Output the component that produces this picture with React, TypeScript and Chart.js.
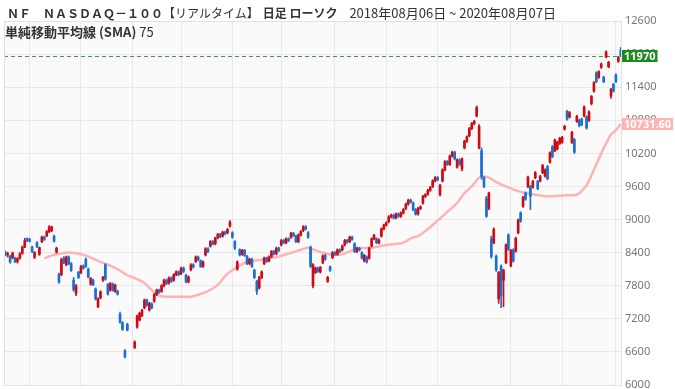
import React, { useEffect, useRef } from "react";
import { Chart, registerables } from "chart.js";

Chart.register(...registerables);

// Candles (each candle ~2 trading days)
const openPrices: (number | null)[] = [
  8400, 8360, 8330, 8310, 8300, 8240, 8300, 8390, 8500, 8650, 8640, 8500, 8320, 8580, 8370, 8600, 8680, 8700, 8780, 8800,
  8700, 8410, 8010, 8000, 8300, 8180, 8320, 8200, 7900, 7660, 8040, 8040, 8150, 8280, 8100, 7830, 7900, 7740, 7420, 7580,
  7900, 8180, 7820, 7720, 7830, 7700, 7700, 7280, 7130, 6620, 7100, null, null, 6680, 7050, 7180, 7260, 7400, 7540, 7360,
  7470, 7520, 7640, 7720, 7700, 7800, 7900, 7850, 7940, 7900, 8000, 8050, 8020, 8120, 7990, 7870, 8090, 8180, 8240, 8320,
  8250, 8150, 8360, 8470, 8520, 8600, 8560, 8670, 8730, 8700, 8770, 8760, 8880, 8760, 8600, 8100, 8450, 8370, 8440, 8330,
  8200, 8280, 8080, 7880, 7760, 7950, 8200, 8300, 8250, 8330, 8420, 8380, 8480, 8540, 8620, 8580, 8650, 8680, 8750, 8700,
  8600, 8720, 8800, 8870, 8760, 8500, 7800, 8040, 8120, 8050, 8220, 8350, 7880, 8140, 8310, 8400, 8370, 8450, 8450, 8540,
  8620, 8600, 8680, 8560, 8420, 8480, 8400, 8250, 8320, 8300, 8520, 8650, 8650, 8580, 8700, 8830, 8900, 8960, 9050, 9080,
  9030, 9100, 9060, 9120, 9200, 9280, 9350, 9300, 9180, 9100, 9200, 9300, 9420, 9460, 9530, 9600, 9700, 9760, 9450, 9700,
  9900, 10050, 10000, 10150, 10220, 9950, 10080, 9920, 10300, 10420, 10520, 10650, 10740, 10880, 10300, 10250, 9760, 9380, 9200, 8650,
  8580, 8330, 7560, 8150, 7900, 8220, 8720, 8160, 8450, 8430, 8760, 9120, 9240, 9480, 9600, 9600, 9590, 9760, 9690, 9700,
  9850, 9790, 9960, 10040, 10320, 10250, 10280, 10380, 10400, 10640, 10960, 10860, 10400, 10450, 10780, 10800, 10820, 10880, 10860, 10800,
  11100, 11330, 11660, 11580, 11760, 11580, 11950, 11770, 11240, 11450, 11620, 11870, 12080,
];
const highPrices: (number | null)[] = [
  8430, 8410, 8350, 8410, 8320, 8310, 8400, 8520, 8660, 8670, 8660, 8520, 8420, 8600, 8500, 8700, 8700, 8800, 8890, 8880,
  8720, 8500, 8030, 8300, 8330, 8340, 8340, 8220, 7950, 7820, 8060, 8170, 8180, 8300, 8120, 7950, 7920, 7760, 7580, 7710,
  7970, 8200, 7840, 7860, 7850, 7830, 7720, 7320, 7150, 6640, 7120, null, null, 6800, 7270, 7320, 7370, 7560, 7560, 7500,
  7490, 7660, 7740, 7740, 7820, 7920, 7920, 7960, 7960, 8020, 8070, 8070, 8140, 8140, 8010, 7980, 8200, 8200, 8340, 8340,
  8270, 8250, 8490, 8490, 8620, 8620, 8680, 8750, 8750, 8790, 8790, 8840, 8980, 8780, 8620, 8250, 8470, 8460, 8460, 8350,
  8300, 8300, 8100, 7900, 7970, 8070, 8320, 8320, 8340, 8440, 8440, 8500, 8500, 8640, 8640, 8670, 8670, 8770, 8770, 8720,
  8740, 8800, 8890, 8890, 8780, 8520, 8200, 8140, 8140, 8150, 8360, 8370, 7970, 8160, 8420, 8420, 8470, 8470, 8540, 8640,
  8640, 8700, 8700, 8580, 8500, 8500, 8420, 8370, 8340, 8500, 8670, 8730, 8670, 8650, 8850, 8920, 8960, 9070, 9100, 9100,
  9120, 9120, 9140, 9200, 9300, 9370, 9370, 9320, 9200, 9220, 9250, 9440, 9470, 9550, 9600, 9720, 9780, 9780, 9640, 9920,
  10070, 10070, 10170, 10240, 10240, 10100, 10100, 10120, 10440, 10520, 10670, 10760, 10800, 11060, 10720, 10300, 9780, 9420, 9500, 8700,
  8850, 8360, 8060, 8180, 8100, 8560, 8740, 8460, 8470, 8680, 9010, 9140, 9420, 9500, 9790, 9620, 9710, 9870, 9710, 9800,
  10000, 9920, 9980, 10230, 10340, 10460, 10420, 10490, 10510, 10710, 10980, 10960, 10600, 10470, 10890, 10820, 10840, 11060, 10880, 10970,
  11250, 11500, 11680, 11700, 11840, 11600, 12060, 11870, 11380, 11470, 11640, 11960, 12120,
];
const lowPrices: (number | null)[] = [
  8340, 8320, 8210, 8290, 8220, 8210, 8280, 8370, 8490, 8600, 8590, 8400, 8290, 8490, 8350, 8580, 8620, 8690, 8760, 8780,
  8590, 8390, 7840, 7980, 8200, 8160, 8180, 8060, 7700, 7620, 7930, 8020, 8100, 8130, 7940, 7810, 7800, 7540, 7400, 7560,
  7880, 7900, 7630, 7700, 7700, 7680, 7630, 7120, 6990, 6490, 6980, null, null, 6660, 7030, 7160, 7240, 7380, 7430, 7340,
  7380, 7500, 7620, 7660, 7680, 7780, 7820, 7830, 7860, 7880, 7980, 7980, 8000, 8040, 7850, 7850, 8070, 8120, 8220, 8250,
  8130, 8130, 8340, 8400, 8500, 8540, 8540, 8650, 8670, 8680, 8720, 8740, 8860, 8660, 8460, 8080, 8340, 8350, 8330, 8180,
  8180, 8130, 7930, 7640, 7740, 7930, 8180, 8220, 8230, 8310, 8360, 8360, 8420, 8520, 8560, 8560, 8600, 8660, 8690, 8580,
  8580, 8700, 8780, 8810, 8660, 8130, 7760, 8020, 8040, 8030, 8200, 8260, 7860, 8060, 8290, 8350, 8350, 8400, 8430, 8520,
  8570, 8580, 8620, 8400, 8400, 8430, 8280, 8230, 8210, 8280, 8500, 8630, 8560, 8560, 8680, 8810, 8880, 8940, 9030, 9010,
  9010, 9040, 9040, 9100, 9180, 9260, 9300, 9160, 9080, 9080, 9180, 9280, 9400, 9440, 9510, 9580, 9680, 9700, 9430, 9680,
  9880, 9980, 9980, 10130, 10080, 9930, 9980, 9880, 10280, 10400, 10500, 10630, 10720, 10860, 10280, 9730, 9580, 9040, 9180, 8300,
  8560, 8060, 7480, 7400, 7420, 8200, 8440, 8140, 8230, 8410, 8740, 8950, 9220, 9350, 9580, 9180, 9570, 9740, 9540, 9680,
  9830, 9770, 9720, 10020, 10120, 10230, 10260, 10360, 10380, 10620, 10800, 10840, 10380, 10200, 10760, 10680, 10700, 10860, 10640, 10780,
  11080, 11310, 11480, 11560, 11740, 11480, 11930, 11750, 11200, 11310, 11480, 11850, 11950,
];
const closePrices: (number | null)[] = [
  8360, 8380, 8230, 8390, 8240, 8290, 8380, 8500, 8620, 8620, 8610, 8420, 8400, 8510, 8490, 8680, 8640, 8780, 8860, 8870,
  8610, 8480, 7870, 8270, 8220, 8320, 8200, 8080, 7730, 7800, 7950, 8150, 8120, 8150, 7960, 7930, 7820, 7560, 7560, 7690,
  7950, 7920, 7650, 7840, 7720, 7810, 7650, 7140, 7010, 6510, 7000, null, null, 6780, 7250, 7300, 7350, 7540, 7450, 7480,
  7400, 7640, 7720, 7680, 7800, 7900, 7840, 7940, 7880, 8000, 8050, 8000, 8120, 8060, 7870, 7960, 8180, 8140, 8320, 8270,
  8150, 8230, 8470, 8420, 8600, 8560, 8660, 8730, 8690, 8770, 8740, 8820, 8950, 8680, 8480, 8230, 8360, 8440, 8350, 8200,
  8280, 8150, 7950, 7700, 7950, 8050, 8300, 8240, 8320, 8420, 8380, 8480, 8440, 8620, 8580, 8650, 8620, 8750, 8710, 8600,
  8720, 8780, 8870, 8830, 8680, 8150, 8180, 8120, 8060, 8130, 8340, 8280, 7950, 8080, 8400, 8370, 8450, 8420, 8520, 8620,
  8590, 8680, 8640, 8420, 8480, 8450, 8300, 8350, 8230, 8480, 8650, 8710, 8580, 8630, 8830, 8900, 8940, 9050, 9080, 9030,
  9100, 9060, 9120, 9180, 9280, 9350, 9320, 9180, 9100, 9200, 9230, 9420, 9450, 9530, 9580, 9700, 9760, 9720, 9620, 9900,
  10050, 10000, 10150, 10220, 10100, 10080, 10000, 10100, 10420, 10500, 10650, 10740, 10780, 11030, 10690, 9780, 9600, 9060, 9480, 8330,
  8820, 8090, 8040, 7620, 8080, 8540, 8460, 8440, 8250, 8660, 8990, 8970, 9400, 9370, 9770, 9420, 9690, 9850, 9560, 9780,
  9980, 9900, 9740, 10210, 10140, 10440, 10400, 10470, 10490, 10690, 10820, 10940, 10580, 10220, 10870, 10700, 10720, 11040, 10660, 10950,
  11230, 11480, 11500, 11680, 11820, 11500, 12040, 11850, 11360, 11330, 11500, 11940, 11970,
];

// 75-period simple moving average, [candle index, value]
const smaPoints: [number, number][] = [
  [16, 8300], [20, 8360], [25, 8400], [30, 8380], [34, 8330], [38, 8250], [42, 8180], [46, 8100], [50, 7990], [53, 7940],
  [57, 7850], [60, 7720], [63, 7620], [66, 7600], [72, 7600], [76, 7600], [80, 7650], [83, 7700], [86, 7780], [88, 7860],
  [90, 7980], [92, 8050], [95, 8140], [99, 8230], [105, 8270], [111, 8320], [118, 8410], [124, 8490], [126, 8460], [130, 8400],
  [134, 8360], [138, 8370], [144, 8470], [150, 8490], [156, 8540], [163, 8580], [166, 8660], [169, 8700], [172, 8790], [177, 8980],
  [182, 9180], [185, 9300], [188, 9480], [191, 9600], [194, 9760], [196, 9780], [198, 9760], [201, 9680], [205, 9600], [209, 9530],
  [212, 9490], [217, 9450], [222, 9420], [227, 9430], [230, 9440], [234, 9450], [236, 9520], [238, 9620], [240, 9800], [242, 10000],
  [244, 10200], [246, 10380], [248, 10540], [250, 10620], [252, 10731.6],
];

// candle indices where the vertical month grid lines fall
const gridCandles = [10, 31, 52, 72, 93, 113, 135, 156, 177, 207, 228, 250];
const yMin = 6000;
const yMax = 12600;
const yStep = 600;
const lastPrice = 11970;
const lastSma = 10731.6;

const candleLabels = openPrices.map((_, i) => String(i));

const UP = "#cf0a14";
const DOWN = "#1a6fd2";

const overlayPlugin = {
  id: "overlay",
  beforeDraw(chart: any) {
    const { ctx, chartArea: a } = chart;
    ctx.save();
    ctx.fillStyle = "#fafafa";
    ctx.fillRect(a.left, a.top, a.right - a.left, a.bottom - a.top);
    ctx.restore();
  },
  beforeDatasetsDraw(chart: any) {
    const { ctx, chartArea: a, scales } = chart;
    const py = Math.round(scales.y.getPixelForValue(lastPrice)) + 0.5;
    ctx.save();
    ctx.strokeStyle = "#3d9a3d";
    ctx.lineWidth = 1;
    ctx.setLineDash([4, 3]);
    ctx.beginPath();
    ctx.moveTo(a.left, py);
    ctx.lineTo(a.right, py);
    ctx.stroke();
    ctx.restore();
  },
  afterDraw(chart: any) {
    const { ctx, chartArea: a, scales } = chart;
    ctx.save();
    ctx.strokeStyle = "#e2e2e2";
    ctx.lineWidth = 1;
    ctx.strokeRect(Math.round(a.left) + 0.5, Math.round(a.top) + 0.5, Math.round(a.right - a.left) - 1, Math.round(a.bottom - a.top));
    const tag = (text: string, value: number, bg: string) => {
      const py = scales.y.getPixelForValue(value);
      ctx.font = "bold 11px 'Noto Sans', sans-serif";
      const w = ctx.measureText(text).width + 4;
      ctx.fillStyle = bg;
      ctx.fillRect(Math.round(a.right), Math.round(py) - 6, w, 12);
      ctx.fillStyle = "#ffffff";
      ctx.textBaseline = "middle";
      ctx.textAlign = "left";
      ctx.fillText(text, Math.round(a.right) + 2, Math.round(py) + 0.5);
    };
    tag(String(lastPrice), lastPrice, "#1d8a1d");
    tag(lastSma.toFixed(2), lastSma, "#ffb4b4");
    ctx.restore();
  },
};

export default function App() {
  const ref = useRef<HTMLCanvasElement | null>(null);

  useEffect(() => {
    if (!ref.current) return;
    const colors = openPrices.map((o, i) => {
      const c = closePrices[i];
      if (o == null || c == null) return DOWN;
      return c >= o ? UP : DOWN;
    });
    const chart = new Chart(ref.current, {
      type: "bar",
      data: {
        labels: candleLabels,
        datasets: [
          {
            type: "bar",
            label: "body",
            data: openPrices.map((o, i) => (o == null ? null : [o, closePrices[i] as number])) as any,
            backgroundColor: colors,
            barThickness: 2,
            grouped: false,
            minBarLength: 1,
            order: 1,
          } as any,
          {
            type: "bar",
            label: "wick",
            data: lowPrices.map((l, i) => (l == null ? null : [l, highPrices[i] as number])) as any,
            backgroundColor: colors,
            barThickness: 1,
            grouped: false,
            order: 2,
          } as any,
          {
            type: "line",
            label: "SMA 75",
            data: smaPoints.map(([i, v]) => ({ x: candleLabels[i], y: v })) as any,
            borderColor: "#ffb4b4",
            borderWidth: 2.5,
            pointRadius: 0,
            tension: 0.3,
            fill: false,
            order: 3,
          } as any,
        ],
      },
      options: {
        responsive: false,
        maintainAspectRatio: false,
        animation: false,
        devicePixelRatio: 1,
        layout: { padding: { left: 4, top: 21, right: 0, bottom: 4 } },
        plugins: { legend: { display: false }, tooltip: { enabled: false } },
        scales: {
          x: {
            type: "category",
            offset: true,
            grid: {
              offset: false,
              drawTicks: false,
              color: (c: any) => (gridCandles.includes(c.index) ? "#e8e8e8" : "rgba(0,0,0,0)"),
            },
            ticks: { display: false, autoSkip: false },
            border: { display: false },
            afterFit: (s: any) => {
              s.height = 0;
            },
          },
          y: {
            position: "right",
            min: yMin,
            max: yMax,
            ticks: {
              stepSize: yStep,
              padding: 3,
              color: "#777",
              font: { size: 11, family: "'Noto Sans', sans-serif" },
              callback: (v: any) => String(v),
            },
            grid: { color: "#e8e8e8", drawTicks: false },
            border: { display: false },
            afterFit: (s: any) => {
              s.width = 53;
              s.paddingTop = 0;
              s.paddingBottom = 0;
            },
          },
        },
      } as any,
      plugins: [overlayPlugin],
    });
    return () => chart.destroy();
  }, []);

  return (
    <div style={{ position: "fixed", left: 0, top: 0, width: 675, height: 389, background: "#fff", overflow: "hidden" }}>
      <canvas ref={ref} width={675} height={389} style={{ position: "absolute", left: 0, top: 0, width: 675, height: 389 }} />
      <div
        style={{
          position: "absolute",
          left: 7,
          top: 5,
          fontFamily: "'Noto Sans CJK JP', sans-serif",
          fontSize: 12,
          lineHeight: "16px",
          color: "#333",
          whiteSpace: "nowrap",
        }}
      >
        <span style={{ fontWeight: "bold" }}>ＮＦ　ＮＡＳＤＡＱ－１００</span>
        <span>【リアルタイム】</span>
        <span style={{ fontWeight: "bold", marginLeft: 4 }}>日足 ローソク</span>
        <span style={{ marginLeft: 12, fontSize: 13 }}>2018年08月06日 ~ 2020年08月07日</span>
      </div>
      <div
        style={{
          position: "absolute",
          left: 5,
          top: 24,
          fontFamily: "'Noto Sans CJK JP', sans-serif",
          fontSize: 13,
          lineHeight: "16px",
          color: "#333",
          whiteSpace: "nowrap",
        }}
      >
        <span style={{ fontWeight: "bold" }}>単純移動平均線 (SMA)</span> <span>75</span>
      </div>
    </div>
  );
}
